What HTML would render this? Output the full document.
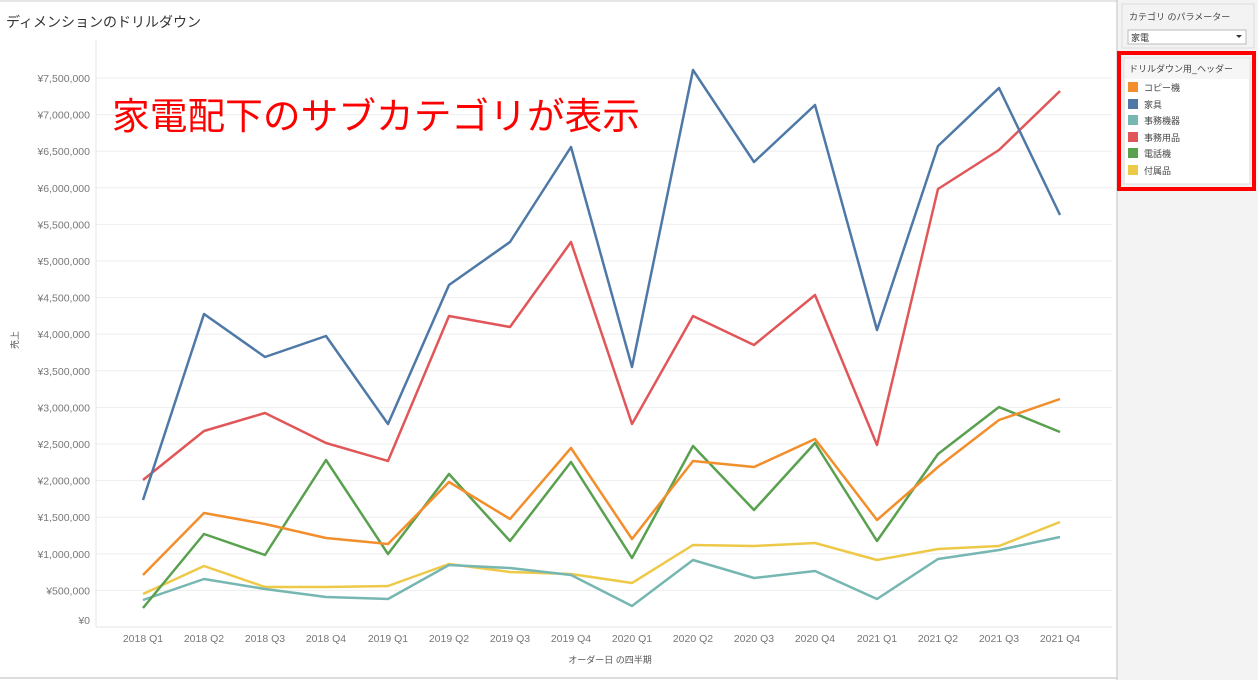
<!DOCTYPE html><html><head><meta charset="utf-8"><style>
body{margin:0;width:1258px;height:680px;overflow:hidden;background:#fff;font-family:"Liberation Sans","Noto Sans CJK JP",sans-serif}
</style></head><body>
<svg width="1258" height="680" xmlns="http://www.w3.org/2000/svg" style="position:absolute;left:0;top:0;font-family:'Liberation Sans','Noto Sans CJK JP',sans-serif">
<rect x="1118" y="0" width="140" height="680" fill="#f3f3f3"/>
<line x1="0" y1="1" x2="1117" y2="1" stroke="#ccc"/>
<line x1="1117" y1="0" x2="1117" y2="680" stroke="#bbb"/>
<line x1="0" y1="678" x2="1117" y2="678" stroke="#bbb"/>
<text x="6" y="27" font-size="14" fill="#333">ディメンションのドリルダウン</text>
<g stroke="#eee" stroke-width="1">
<line x1="96" x2="1112" y1="78" y2="78"/><line x1="96" x2="1112" y1="114.6" y2="114.6"/><line x1="96" x2="1112" y1="151.2" y2="151.2"/><line x1="96" x2="1112" y1="187.8" y2="187.8"/><line x1="96" x2="1112" y1="224.4" y2="224.4"/><line x1="96" x2="1112" y1="261" y2="261"/><line x1="96" x2="1112" y1="297.6" y2="297.6"/><line x1="96" x2="1112" y1="334.2" y2="334.2"/><line x1="96" x2="1112" y1="370.8" y2="370.8"/><line x1="96" x2="1112" y1="407.4" y2="407.4"/><line x1="96" x2="1112" y1="444" y2="444"/><line x1="96" x2="1112" y1="480.6" y2="480.6"/><line x1="96" x2="1112" y1="517.2" y2="517.2"/><line x1="96" x2="1112" y1="553.8" y2="553.8"/><line x1="96" x2="1112" y1="590.4" y2="590.4"/>
</g>
<line x1="96" y1="40" x2="96" y2="627" stroke="#e6e6e6"/>
<line x1="96" y1="627" x2="1112" y2="627" stroke="#e6e6e6"/>
<g font-size="10.5" fill="#777" text-anchor="end">
<text x="90" y="82">¥7,500,000</text><text x="90" y="118.6">¥7,000,000</text><text x="90" y="155.2">¥6,500,000</text><text x="90" y="191.8">¥6,000,000</text><text x="90" y="228.4">¥5,500,000</text><text x="90" y="265">¥5,000,000</text><text x="90" y="301.6">¥4,500,000</text><text x="90" y="338.2">¥4,000,000</text><text x="90" y="374.8">¥3,500,000</text><text x="90" y="411.4">¥3,000,000</text><text x="90" y="448">¥2,500,000</text><text x="90" y="484.6">¥2,000,000</text><text x="90" y="521.2">¥1,500,000</text><text x="90" y="557.8">¥1,000,000</text><text x="90" y="594.4">¥500,000</text><text x="90" y="624">¥0</text>
</g>
<text x="18" y="340" font-size="9" fill="#555" transform="rotate(-90 18 340)" text-anchor="middle">売上</text>
<g font-size="10.5" fill="#777" text-anchor="middle">
<text x="143" y="642">2018 Q1</text><text x="204" y="642">2018 Q2</text><text x="265" y="642">2018 Q3</text><text x="326" y="642">2018 Q4</text><text x="388" y="642">2019 Q1</text><text x="449" y="642">2019 Q2</text><text x="510" y="642">2019 Q3</text><text x="571" y="642">2019 Q4</text><text x="632" y="642">2020 Q1</text><text x="693" y="642">2020 Q2</text><text x="754" y="642">2020 Q3</text><text x="815" y="642">2020 Q4</text><text x="877" y="642">2021 Q1</text><text x="938" y="642">2021 Q2</text><text x="999" y="642">2021 Q3</text><text x="1060" y="642">2021 Q4</text>
</g>
<text x="610" y="663" font-size="9" fill="#555" text-anchor="middle">オーダー日 の四半期</text>
<text x="112" y="129" font-size="37" fill="#f00" textLength="528" lengthAdjust="spacingAndGlyphs">家電配下のサブカテゴリが表示</text>
<g fill="none" stroke-width="2.5" stroke-linejoin="round">
<polyline stroke="#eec948" points="143,594 204,566 265,587 326,587 388,586 449,564 510,572 571,574 632,583 693,545 754,546 815,543 877,560 938,549 999,546 1060,522"/>
<polyline stroke="#76b7b2" points="143,600 204,579 265,589 326,597 388,599 449,565 510,568 571,575 632,606 693,560 754,578 815,571 877,599 938,559 999,550 1060,537"/>
<polyline stroke="#59a14f" points="143,608 204,534 265,555 326,460 388,554 449,474 510,541 571,462 632,558 693,446 754,510 815,443 877,541 938,454 999,407 1060,432"/>
<polyline stroke="#f28e2b" points="143,575 204,513 265,524 326,538 388,544 449,482 510,519 571,448 632,539 693,461 754,467 815,439 877,520 938,467 999,420 1060,399"/>
<polyline stroke="#e15759" points="143,480 204,431 265,413 326,443 388,461 449,316 510,327 571,242 632,424 693,316 754,345 815,295 877,445 938,189 999,150 1060,91"/>
<polyline stroke="#4e79a7" points="143,500 204,314 265,357 326,336 388,424 449,285 510,242 571,147 632,367 693,70 754,162 815,105 877,330 938,146 999,88 1060,215"/>
</g>
<rect x="1122" y="4" width="132" height="44" fill="#f3f3f3" stroke="#ddd"/>
<text x="1129" y="20" font-size="9" fill="#444">カテゴリ のパラメーター</text>
<rect x="1128" y="30" width="118" height="14" fill="#fff" stroke="#bbb"/>
<text x="1131" y="41" font-size="9" fill="#333">家電</text>
<path d="M1236 35 l6 0 l-3 3z" fill="#333"/>
<rect x="1119" y="53" width="135" height="136" fill="none" stroke="#f00" stroke-width="4"/>
<rect x="1124" y="58" width="126" height="126" fill="#fff" stroke="#ddd"/>
<rect x="1125" y="59" width="124" height="20" fill="#f6f6f6"/>
<text x="1129" y="72" font-size="9" fill="#444">ドリルダウン用_ヘッダー</text>
<g font-size="9" fill="#444">
<rect x="1128" y="82" width="10" height="10" fill="#f28e2b"/><text x="1144" y="91">コピー機</text>
<rect x="1128" y="99" width="10" height="10" fill="#4e79a7"/><text x="1144" y="108">家具</text>
<rect x="1128" y="115" width="10" height="10" fill="#76b7b2"/><text x="1144" y="124">事務機器</text>
<rect x="1128" y="132" width="10" height="10" fill="#e15759"/><text x="1144" y="141">事務用品</text>
<rect x="1128" y="148" width="10" height="10" fill="#59a14f"/><text x="1144" y="157">電話機</text>
<rect x="1128" y="165" width="10" height="10" fill="#edc948"/><text x="1144" y="174">付属品</text>
</g>
</svg>
</body></html>
